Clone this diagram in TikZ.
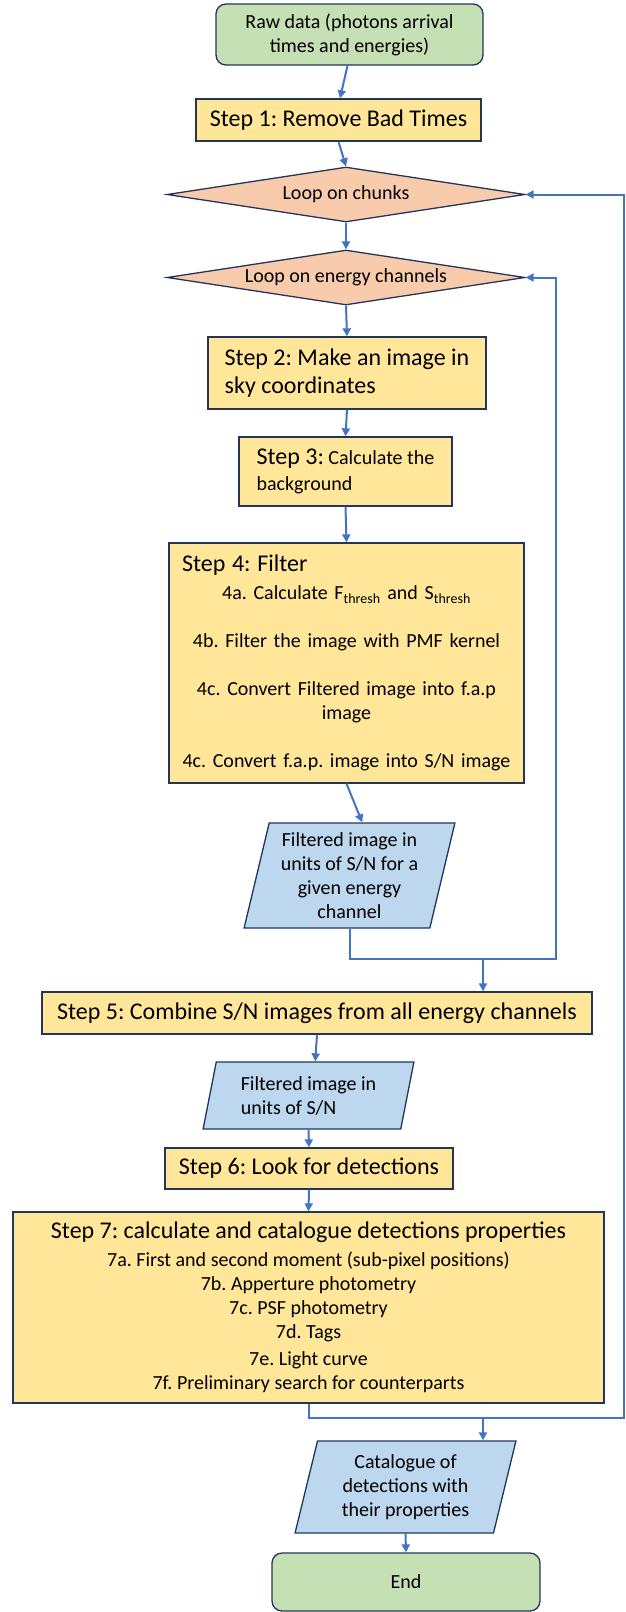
\documentclass[tikz,border=0pt]{standalone}
\usepackage{fontspec}
\setmainfont{Carlito}
\usetikzlibrary{shapes.geometric,arrows.meta}
\definecolor{rawgreen}{HTML}{C5E0B4}
\definecolor{stepyellow}{HTML}{FFE699}
\definecolor{looporange}{HTML}{F8CBAD}
\definecolor{datablue}{HTML}{BDD7EE}
\definecolor{flowblue}{HTML}{4472C4}
\definecolor{edgenavy}{HTML}{23355A}
\frenchspacing
\newcommand{\stitle}[1]{{\fontsize{24}{29}\selectfont #1}}
\tikzset{
    base/.style={draw=edgenavy, line width=1.3pt, inner sep=0pt, text=black,
      font=\fontsize{20}{24}\selectfont},
    terminal/.style={base, fill=rawgreen, rounded corners=10pt, align=center},
    stepbox/.style={base, fill=stepyellow, align=center},
    loopbox/.style={base, fill=looporange, diamond, aspect=6.5,
      minimum width=358pt, minimum height=55pt},
    databox/.style={base, fill=datablue, trapezium, trapezium stretches=true,
      trapezium left angle=76, trapezium right angle=104, align=center},
    flow/.style={draw=flowblue, line width=2pt},
    arr/.style={flow, -{Triangle[length=8pt,width=8pt]}},
  }
\begin{document}
\begin{tikzpicture}[x=1pt,y=-1pt]
			  %pixel coordinates, y downwards
			  %corners of the loops: (r1) (r2), arrows down from (j1) (j2)
			  \useasboundingbox (0,0) rectangle (625,1612);
			  \node[terminal, minimum width=267pt, minimum height=61pt] (raw) at (349.5,34.5) {Raw data (photons arrival\\times and energies)};
			  \node[stepbox, minimum width=285pt, minimum height=42pt] (s1) at (338.5,120) {\stitle{Step 1: Remove Bad Times}};
			  \node[loopbox] (l1) at (346,194.5) {Loop on chunks};
			  \node[loopbox] (l2) at (346,277.5) {Loop on energy channels};
			  \node[stepbox, align=left, minimum width=278pt, minimum height=72pt, font=\fontsize{24}{28}\selectfont] (s2) at (347,373) {Step 2: Make an image in\\sky coordinates};
			  \node[stepbox, align=left, minimum width=213pt, minimum height=69pt, font=\fontsize{20}{26}\selectfont] (s3) at (345.5,471.5) {\stitle{Step 3:} Calculate the\\background};
			  \node[stepbox, text width=331pt, inner xsep=12pt, minimum height=240pt] (s4) at (346.5,663) {\noindent\hbox to\hsize{\hskip1pt\stitle{Step 4: Filter}\hfil}\\[4.7pt]
			    4a. Calculate F\textsubscript{thresh} and S\textsubscript{thresh}\\[24pt]
			    4b. Filter the image with PMF kernel\\[24pt]
			    4c. Convert Filtered image into f.a.p\\
			    image\\[24pt]
			    4c. Convert f.a.p. image into S/N image};
			  \node[databox, minimum width=211pt, minimum height=105pt] (p1) at (349.5,875.5) {Filtered image in\\units of S/N for a\\given energy\\channel};
			  \node[stepbox, minimum width=550pt, minimum height=42pt] (s5) at (317,1013) {\stitle{Step 5: Combine S/N images from all energy channels}};
			  \node[databox, align=left, minimum width=211pt, minimum height=67pt] (p2) at (308.5,1095.5) {Filtered image in\\units of S/N};
			  \node[stepbox, minimum width=288pt, minimum height=41pt] (s6) at (309,1168.5) {\stitle{Step 6: Look for detections}};
			  \node[stepbox, minimum width=591pt, minimum height=191pt] (s7) at (308.5,1307.5) {\stitle{Step 7: calculate and catalogue detections properties}\\[4.3pt]
			    7a. First and second moment (sub-pixel positions)\\
			    7b. Apperture photometry\\
			    7c. PSF photometry\\
			    7d. Tags\\[3pt]
			    7e. Light curve\\
			    7f. Preliminary search for counterparts};
			  \node[databox, minimum width=221pt, minimum height=92pt] (p3) at (405.5,1487) {Catalogue of\\detections with\\their properties};
			  \node[terminal, minimum width=268pt, minimum height=58pt] (done) at (406,1582) {End};
			  \coordinate (r1) at (555.5,959);
			  \coordinate (j1) at (483,959);
			  \coordinate (r2) at (623.5,1417.5);
			  \coordinate (j2) at (483,1417.5);
			  \draw[arr] ([xshift=-2pt]raw.south) -- ([xshift=1.5pt]s1.north);
			  \draw[arr] (s1.south) -- (l1.north);
			  \draw[arr] (l1.south) -- (l2.north);
			  \draw[arr] (l2.south) -- (s2.north);
			  \draw[arr] (s2.south) -- (s3.north);
			  \draw[arr] (s3.south) -- (s4.north);
			  \draw[arr] (s4.south) -- (p1.top side);
			  \draw[arr] (p1.south) |- (r1) |- (l2.east);
			  \draw[arr] (j1) -- (j1 |- s5.north);
			  \draw[arr] (s5.south) -- (p2.top side);
			  \draw[arr] (p2.south) -- (s6.north);
			  \draw[arr] (s6.south) -- (s7.north);
			  \draw[arr] (s7.south) |- (r2) |- (l1.east);
			  \draw[arr] (j2) -- (j2 |- p3.north);
			  \draw[arr] (p3.south) -- (done.north);
			  \end{tikzpicture}
\end{document}
